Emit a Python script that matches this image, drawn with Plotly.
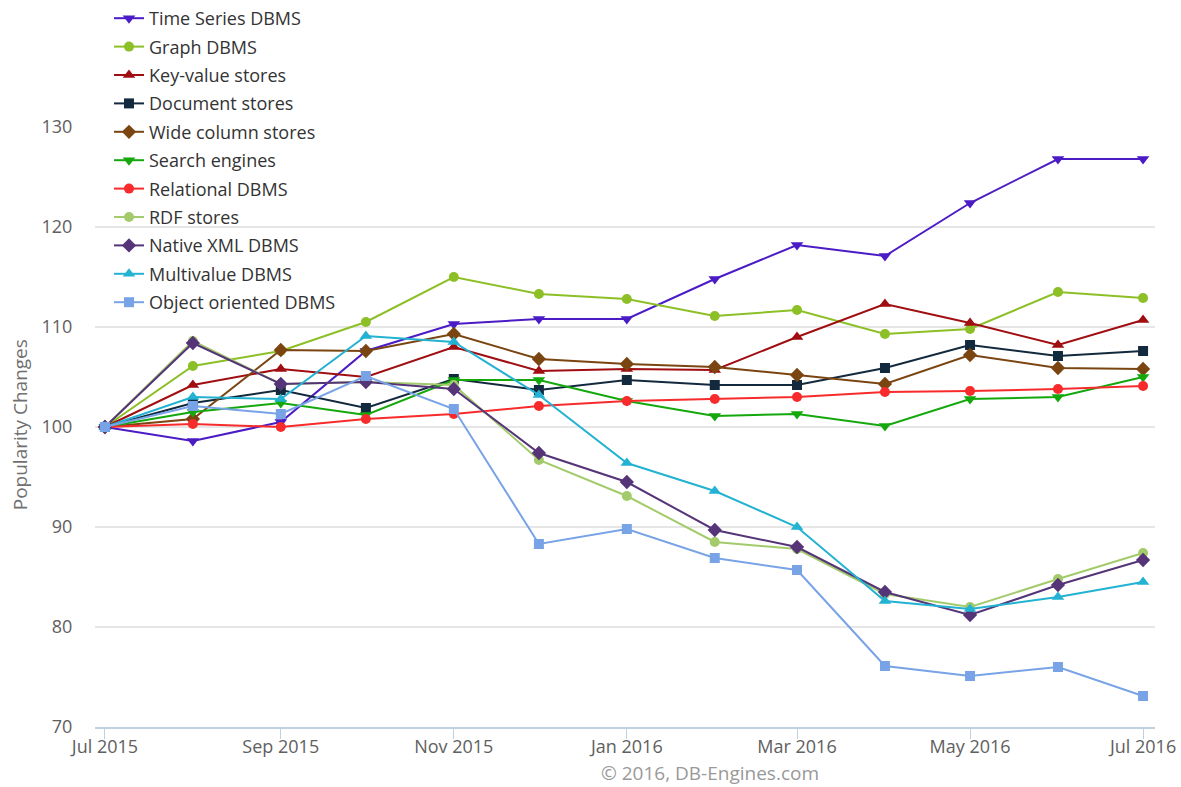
import plotly.graph_objects as go

months = ["2015-07-01", "2015-08-01", "2015-09-01", "2015-10-01", "2015-11-01", "2015-12-01",
          "2016-01-01", "2016-02-01", "2016-03-01", "2016-04-01", "2016-05-01", "2016-06-01",
          "2016-07-01"]

time_series = [100, 98.6, 100.5, 107.6, 110.3, 110.8, 110.8, 114.8, 118.2, 117.1, 122.4, 126.8, 126.8]
graph = [100, 106.1, 107.6, 110.5, 115.0, 113.3, 112.8, 111.1, 111.7, 109.3, 109.8, 113.5, 112.9]
key_value = [100, 104.2, 105.8, 105.0, 108.0, 105.6, 105.8, 105.7, 109.0, 112.3, 110.4, 108.2, 110.7]
document = [100, 102.4, 103.7, 101.9, 104.8, 103.7, 104.7, 104.2, 104.2, 105.9, 108.2, 107.1, 107.6]
wide_column = [100, 100.8, 107.7, 107.6, 109.3, 106.8, 106.3, 106.0, 105.2, 104.3, 107.2, 105.9, 105.8]
search = [100, 101.5, 102.4, 101.2, 104.7, 104.7, 102.6, 101.1, 101.3, 100.1, 102.8, 103.0, 105.0]
relational = [100, 100.3, 100.0, 100.8, 101.3, 102.1, 102.6, 102.8, 103.0, 103.5, 103.6, 103.8, 104.1]
rdf = [100, 108.6, 104.3, 104.5, 104.2, 96.7, 93.1, 88.5, 87.8, 83.3, 82.0, 84.8, 87.4]
native_xml = [100, 108.4, 104.3, 104.5, 103.8, 97.4, 94.5, 89.7, 88.0, 83.5, 81.2, 84.2, 86.7]
multivalue = [100, 103.0, 102.8, 109.1, 108.5, 103.2, 96.4, 93.6, 90.0, 82.6, 81.8, 83.0, 84.5]
object_oriented = [100, 102.1, 101.3, 105.1, 101.8, 88.3, 89.8, 86.9, 85.7, 76.1, 75.1, 76.0, 73.1]

series = [
    ("Time Series DBMS", time_series, "#4B1BC6", "triangle-down"),
    ("Graph DBMS", graph, "#8DBF27", "circle"),
    ("Key-value stores", key_value, "#A00E12", "triangle-up"),
    ("Document stores", document, "#13293D", "square"),
    ("Wide column stores", wide_column, "#7A4511", "diamond"),
    ("Search engines", search, "#14A80D", "triangle-down"),
    ("Relational DBMS", relational, "#F72B2B", "circle"),
    ("RDF stores", rdf, "#A3CB6B", "circle"),
    ("Native XML DBMS", native_xml, "#553478", "diamond"),
    ("Multivalue DBMS", multivalue, "#23B2D2", "triangle-up"),
    ("Object oriented DBMS", object_oriented, "#78A3E6", "square"),
]

fig = go.Figure()
for name, vals, color, sym in series:
    size = 11 if sym in ("triangle-down", "triangle-up", "diamond") else 10
    fig.add_trace(go.Scatter(
        x=months, y=vals, name=name, legendgroup=name, mode="lines+markers",
        line=dict(color=color, width=2),
        marker=dict(color=color, symbol=sym, size=size, line=dict(width=0)),
    ))

fig.update_layout(
    width=1181, height=787,
    margin=dict(l=95, r=26, t=127, b=60, autoexpand=False),
    paper_bgcolor="white", plot_bgcolor="white",
    font=dict(family="Open Sans", size=18, color="#606060"),
    showlegend=True,
    legend=dict(
        xref="container", yref="container",
        x=(109 / 1181), y=1.002, xanchor="left", yanchor="top",
        bgcolor="rgba(0,0,0,0)",
        font=dict(family="Open Sans", size=18, color="#333333"),
        tracegroupgap=2,
    ),
    xaxis=dict(
        type="date",
        range=["2015-06-27 12:00", "2016-07-05 05:00"],
        tick0="2015-07-01", dtick="M2", tickformat="%b %Y",
        showgrid=False, zeroline=False,
        showline=True, linecolor="#C0D0E0", linewidth=2,
        ticks="outside", ticklen=10, tickwidth=1, tickcolor="#C0D0E0",
        ticklabelstandoff=-8,
        tickfont=dict(family="Open Sans", size=18, color="#606060"),
    ),
    yaxis=dict(
        range=[70, 130],
        tickvals=[70, 80, 90, 100, 110, 120, 130],
        showgrid=True, gridcolor="#E6E6E6", gridwidth=2,
        zeroline=False, showline=False,
        ticks="outside", ticklen=18, tickcolor="rgba(0,0,0,0)",
        tickfont=dict(family="Open Sans", size=18, color="#606060"),
    ),
    annotations=[
        dict(
            text="© 2016, DB-Engines.com", xref="paper", yref="paper",
            x=(710 - 95) / 1060, y=(726.7 - 773) / 600, xanchor="center", yanchor="middle",
            showarrow=False,
            font=dict(family="Open Sans", size=19, color="#999999"),
        ),
        dict(
            text="Popularity Changes", xref="paper", yref="paper", textangle=-90,
            x=(20 - 95) / 1060, y=(726.7 - 425) / 600, xanchor="center", yanchor="middle",
            showarrow=False,
            font=dict(family="Open Sans", size=19, color="#707070"),
        ),
    ],
)

fig.write_html("out.html", config={"displayModeBar": False},
               post_script="document.body.style.margin='0';document.body.style.overflow='hidden';")
